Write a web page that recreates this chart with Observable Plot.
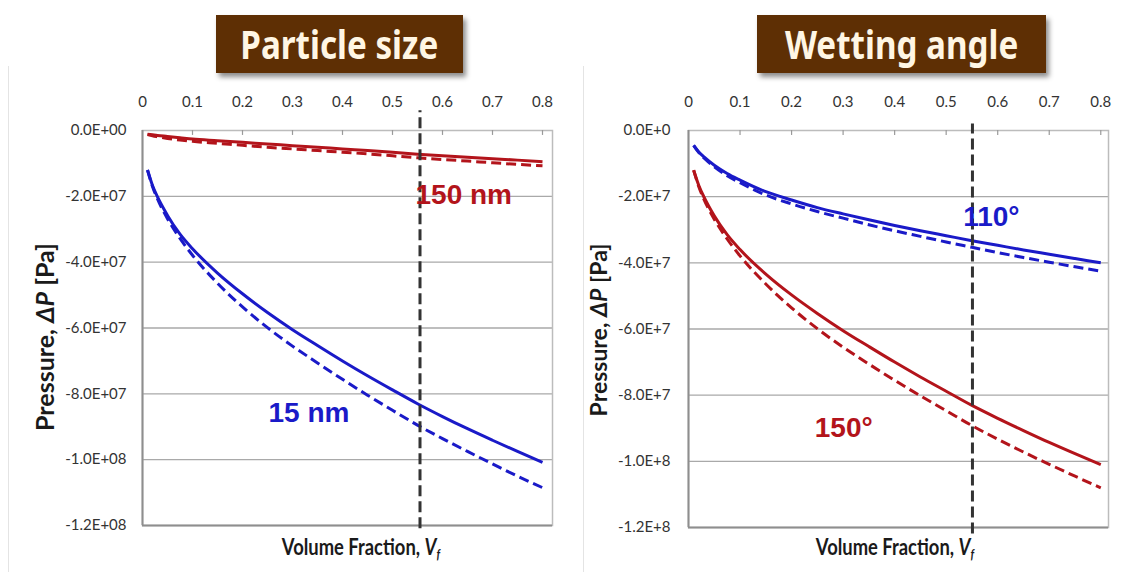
<!DOCTYPE html>
<html>
<head>
<meta charset="utf-8">
<script src="https://cdn.jsdelivr.net/npm/d3@7"></script>
<script src="https://cdn.jsdelivr.net/npm/@observablehq/plot@0.6"></script>
<style>
  html, body { margin: 0; padding: 0; background: #fff; }
  #wrap { position: relative; width: 1130px; height: 572px; overflow: hidden; font-family: Lato, "Open Sans", sans-serif; }
  .panel { position: absolute; top: 0; }
  .edge { position: absolute; top: 66px; width: 1px; height: 506px; background: #e4e4e4; }
  .titlebox { position: absolute; top: 15px; height: 58px; background: #5e2f04;
    box-shadow: 3px 4px 5px rgba(0,0,0,0.45); display: flex; align-items: center; justify-content: center; z-index: 2; }
  .titlebox span { display: inline-block; color: #fff6e4; font-family: "Noto Sans", sans-serif; font-weight: 700;
    font-size: 40px; line-height: 1; white-space: nowrap; transform: scaleX(0.83); }
  .xtitle { position: absolute; font-weight: 700; font-size: 23px; color: #1a1a1a; white-space: nowrap; line-height: 1;
    transform: translate(-50%, -50%) scaleX(0.8); }
  .ytitle { position: absolute; font-weight: 700; color: #1a1a1a; white-space: nowrap; line-height: 1;
    transform: translate(-50%, -50%) rotate(-90deg); }
  sub { font-size: 0.6em; vertical-align: -0.25em; }
</style>
</head>
<body>
<div id="wrap">
  <div class="edge" style="left:8px"></div>
  <div class="edge" style="left:583px"></div>
  <div id="leftPanel" class="panel" style="left:0px"></div>
  <div id="rightPanel" class="panel" style="left:565px"></div>
  <div class="titlebox" style="left:216px;width:247px"><span id="t1"></span></div>
  <div class="titlebox" style="left:757px;width:289px"><span id="t2"></span></div>
  <div class="xtitle" style="left:361px;top:548px">Volume Fraction, <i>V<sub>f</sub></i></div>
  <div class="xtitle" style="left:895px;top:548px">Volume Fraction, <i>V<sub>f</sub></i></div>
  <div class="ytitle" style="left:44px;top:337px;font-size:25px">Pressure, <i>ΔP</i> [Pa]</div>
  <div class="ytitle" style="left:598px;top:330px;font-size:23px">Pressure, <i>ΔP</i> [Pa]</div>
</div>
<script>
// ---------------- data ----------------
const panelTitles = ["Particle size", "Wetting angle"];

const vf = [0.01, 0.02, 0.03, 0.05, 0.075, 0.1, 0.15, 0.2, 0.25, 0.3, 0.35, 0.4, 0.45, 0.5, 0.55, 0.6, 0.65, 0.7, 0.75, 0.8];

// Particle size panel
const size15Solid  = [-1.2e7, -1.67e7, -2.02e7, -2.58e7, -3.15e7, -3.59e7, -4.33e7, -4.96e7, -5.53e7, -6.05e7, -6.53e7, -7.0e7, -7.45e7, -7.88e7, -8.3e7, -8.69e7, -9.06e7, -9.41e7, -9.75e7, -1.008e8];
const size15Dashed = [-1.2e7, -1.7e7, -2.08e7, -2.68e7, -3.28e7, -3.79e7, -4.64e7, -5.36e7, -5.99e7, -6.55e7, -7.06e7, -7.56e7, -8.04e7, -8.5e7, -8.95e7, -9.36e7, -9.75e7, -1.013e8, -1.05e8, -1.085e8];
const size150Solid  = [-0.11e7, -0.13e7, -0.15e7, -0.18e7, -0.22e7, -0.26e7, -0.31e7, -0.36e7, -0.41e7, -0.46e7, -0.51e7, -0.56e7, -0.61e7, -0.66e7, -0.72e7, -0.77e7, -0.81e7, -0.86e7, -0.9e7, -0.95e7];
const size150Dashed = [-0.12e7, -0.16e7, -0.19e7, -0.24e7, -0.29e7, -0.33e7, -0.39e7, -0.45e7, -0.51e7, -0.56e7, -0.61e7, -0.66e7, -0.71e7, -0.77e7, -0.83e7, -0.88e7, -0.93e7, -0.98e7, -1.03e7, -1.07e7];

// Wetting angle panel
const angle110Solid  = [-0.45e7, -0.65e7, -0.8e7, -1.05e7, -1.3e7, -1.5e7, -1.85e7, -2.1e7, -2.33e7, -2.52e7, -2.7e7, -2.87e7, -3.03e7, -3.18e7, -3.33e7, -3.47e7, -3.61e7, -3.74e7, -3.87e7, -4.0e7];
const angle110Dashed = [-0.45e7, -0.67e7, -0.83e7, -1.1e7, -1.37e7, -1.58e7, -1.95e7, -2.22e7, -2.45e7, -2.65e7, -2.85e7, -3.03e7, -3.2e7, -3.37e7, -3.53e7, -3.69e7, -3.84e7, -3.98e7, -4.12e7, -4.25e7];
const angle150Solid  = [-1.2e7, -1.66e7, -2.01e7, -2.58e7, -3.15e7, -3.6e7, -4.34e7, -4.97e7, -5.53e7, -6.05e7, -6.53e7, -7.0e7, -7.45e7, -7.88e7, -8.31e7, -8.7e7, -9.07e7, -9.43e7, -9.77e7, -1.01e8];
const angle150Dashed = [-1.2e7, -1.7e7, -2.08e7, -2.68e7, -3.28e7, -3.79e7, -4.64e7, -5.36e7, -5.99e7, -6.55e7, -7.06e7, -7.55e7, -8.02e7, -8.47e7, -8.92e7, -9.33e7, -9.72e7, -1.009e8, -1.045e8, -1.08e8];

// reference volume fraction (vertical dashed line)
const refVf = [0.555, 0.551];

// tick values and labels
const xTicks = [0, 0.1, 0.2, 0.3, 0.4, 0.5, 0.6, 0.7, 0.8];
const xTickLabels = ["0", "0.1", "0.2", "0.3", "0.4", "0.5", "0.6", "0.7", "0.8"];
const yTicks = [0, -2e7, -4e7, -6e7, -8e7, -1e8, -1.2e8];
const yTickLabelsSize  = ["0.0E+00", "-2.0E+07", "-4.0E+07", "-6.0E+07", "-8.0E+07", "-1.0E+08", "-1.2E+08"];
const yTickLabelsAngle = ["0.0E+0", "-2.0E+7", "-4.0E+7", "-6.0E+7", "-8.0E+7", "-1.0E+8", "-1.2E+8"];
const gridY = [-2e7, -4e7, -6e7, -8e7, -1e8];

// curve annotations
const sizeLabels  = ["150 nm", "15 nm"];
const sizeLabelX  = [0.546, 0.252];
const sizeLabelY  = [-1.95e7, -8.57e7];
const angleLabels = ["110°", "150°"];
const angleLabelX = [0.533, 0.245];
const angleLabelY = [-2.63e7, -9.0e7];

// ---------------- drawing ----------------
const RED = "#b3141b", BLUE = "#1a1ac8";
const pts = (ys) => vf.map((x, i) => ({x, y: ys[i]}));

function panel({xMax, mLeft, mRight, mBottom, yLabels, ref, refTop, refBottom, pad, series, labels}) {
  const xMap = new Map(xTicks.map((d, i) => [d, xTickLabels[i]]));
  const yMap = new Map(yTicks.map((d, i) => [d, yLabels[i]]));
  const marks = [
    Plot.ruleY(gridY, {stroke: "#a9a9a9", strokeWidth: 1.3}),
    Plot.frame({stroke: "#bcbcbc", strokeWidth: 1.5}),
    Plot.ruleX([0], {stroke: "#8e8e8e", strokeWidth: 2}),
    Plot.ruleY([-1.2e8], {stroke: "#8e8e8e", strokeWidth: 2}),
    Plot.ruleX(xTicks.slice(1), {y1: 0, y2: -1.5e6, stroke: "#9a9a9a", strokeWidth: 1.2}),
    Plot.axisX(xTicks, {anchor: "top", tickSize: 0, tickPadding: 24, tickFormat: d => xMap.get(d), fill: "#333", fontSize: 15, label: null}),
    Plot.axisY(yTicks, {anchor: "left", tickSize: 0, tickPadding: pad, tickFormat: d => yMap.get(d), fill: "#333", fontSize: 15, label: null})
  ];
  for (const s of series) {
    marks.push(Plot.line(pts(s.ys), {x: "x", y: "y", stroke: s.color, strokeWidth: 3, curve: "monotone-x",
      strokeDasharray: s.dashed ? "10,5" : null, strokeLinecap: "butt"}));
  }
  marks.push(Plot.ruleX([ref], {y1: refBottom, y2: refTop, stroke: "#333", strokeWidth: 3, strokeDasharray: "11,5"}));
  for (const l of labels) {
    marks.push(Plot.text([l.text], {x: () => l.x, y: () => l.y, text: d => d, fill: l.color, fontSize: 28, fontWeight: "bold",
      fontFamily: "'Liberation Sans', Arial, sans-serif", textAnchor: "start", lineAnchor: "middle", ariaLabel: "anno"}));
  }
  const chart = Plot.plot({
    width: 565, height: 572,
    marginLeft: mLeft, marginRight: mRight, marginTop: 130, marginBottom: mBottom,
    x: {domain: [0, xMax]},
    y: {domain: [-1.2e8, 0]},
    style: {fontFamily: "Lato, 'Open Sans', sans-serif", fontSize: "15px", background: "transparent", overflow: "visible"},
    marks
  });
  chart.querySelectorAll('g[aria-label="anno"] text').forEach(t => {
    t.setAttribute("transform", (t.getAttribute("transform") || "") + " scale(0.83,1)");
  });
  return chart;
}

document.getElementById("t1").textContent = panelTitles[0];
document.getElementById("t2").textContent = panelTitles[1];

document.getElementById("leftPanel").appendChild(panel({
  xMax: 0.82, mLeft: 142, mRight: 13, mBottom: 47, yLabels: yTickLabelsSize, pad: 16,
  ref: refVf[0], refTop: 0.6e7, refBottom: -1.21e8,
  series: [
    {ys: size150Solid, color: RED, dashed: false},
    {ys: size150Dashed, color: RED, dashed: true},
    {ys: size15Solid, color: BLUE, dashed: false},
    {ys: size15Dashed, color: BLUE, dashed: true}
  ],
  labels: [
    {text: sizeLabels[0], x: sizeLabelX[0], y: sizeLabelY[0], color: RED},
    {text: sizeLabels[1], x: sizeLabelX[1], y: sizeLabelY[1], color: BLUE}
  ]
}));

document.getElementById("rightPanel").appendChild(panel({
  xMax: 0.815, mLeft: 123, mRight: 22, mBottom: 45, yLabels: yTickLabelsAngle, pad: 18,
  ref: refVf[1], refTop: 0.2e7, refBottom: -1.22e8,
  series: [
    {ys: angle110Solid, color: BLUE, dashed: false},
    {ys: angle110Dashed, color: BLUE, dashed: true},
    {ys: angle150Solid, color: RED, dashed: false},
    {ys: angle150Dashed, color: RED, dashed: true}
  ],
  labels: [
    {text: angleLabels[0], x: angleLabelX[0], y: angleLabelY[0], color: BLUE},
    {text: angleLabels[1], x: angleLabelX[1], y: angleLabelY[1], color: RED}
  ]
}));
</script>
</body>
</html>
